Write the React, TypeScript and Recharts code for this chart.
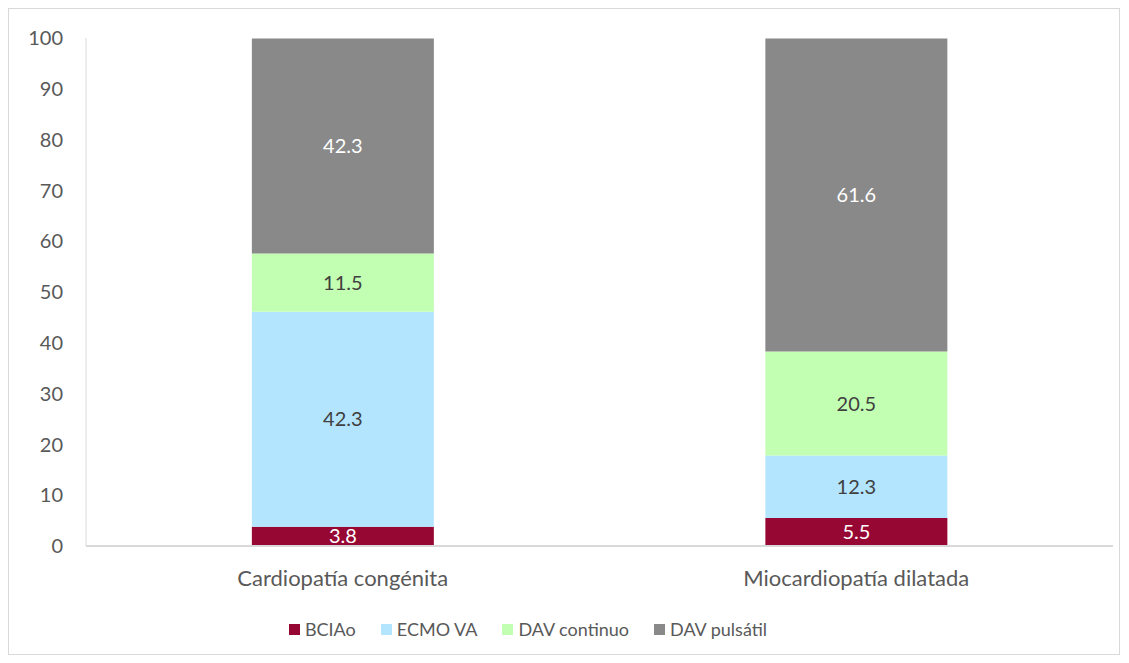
import React from "react";
import { BarChart, Bar, XAxis, YAxis, LabelList, Legend } from "recharts";

const categories = ["Cardiopatía congénita", "Miocardiopatía dilatada"];
const bciao = [3.8, 5.5];
const ecmo = [42.3, 12.3];
const davContinuo = [11.5, 20.5];
const davPulsatil = [42.3, 61.6];
const yTicks = [0, 10, 20, 30, 40, 50, 60, 70, 80, 90, 100];

const series = [
  { key: "bciao", name: "BCIAo", color: "#960833", label: "#FFFFFF" },
  { key: "ecmo", name: "ECMO VA", color: "#B3E5FF", label: "#404040" },
  { key: "davContinuo", name: "DAV continuo", color: "#C3FFB3", label: "#404040" },
  { key: "davPulsatil", name: "DAV pulsátil", color: "#898989", label: "#FFFFFF" },
];

const data = categories.map((c, i) => ({
  name: c,
  bciao: bciao[i],
  ecmo: ecmo[i],
  davContinuo: davContinuo[i],
  davPulsatil: davPulsatil[i],
}));

const FONT = "Lato, 'Open Sans', sans-serif";

const LegendContent = () => (
  <div
    style={{
      height: 30,
      display: "flex",
      justifyContent: "center",
      alignItems: "center",
      paddingRight: 58,
      fontFamily: FONT,
      fontSize: 18,
      color: "#595959",
    }}
  >
    {series.map((s) => (
      <div key={s.key} style={{ display: "flex", alignItems: "center", marginRight: 25 }}>
        <div style={{ width: 11, height: 11, background: s.color, marginRight: 5 }} />
        <span>{s.name}</span>
      </div>
    ))}
  </div>
);

export default function App() {
  return (
    <div
      style={{
        width: 1110,
        height: 645,
        border: "1px solid #D9D9D9",
        background: "#fff",
      }}
    >
      <BarChart
        width={1110}
        height={645}
        data={data}
        margin={{ top: 29, right: 6, left: 17, bottom: 10 }}
        barCategoryGap="32.3%"
      >
        <XAxis
          dataKey="name"
          height={68}
          tickLine={false}
          tickSize={0}
          tickMargin={24}
          axisLine={{ stroke: "#D9D9D9", strokeWidth: 2 }}
          tick={{ fill: "#595959", fontSize: 22, fontFamily: FONT }}
        />
        <YAxis
          width={60}
          domain={[0, 100]}
          ticks={yTicks}
          interval={0}
          tickLine={false}
          tickSize={0}
          tickMargin={23}
          axisLine={{ stroke: "#D9D9D9", strokeWidth: 1 }}
          tick={{ fill: "#595959", fontSize: 20, fontFamily: FONT }}
        />
        <Legend verticalAlign="bottom" content={<LegendContent />} />
        {series.map((s) => (
          <Bar key={s.key} dataKey={s.key} name={s.name} stackId="a" fill={s.color} isAnimationActive={false}>
            <LabelList
              dataKey={s.key}
              position="center"
              fill={s.label}
              style={{ fontSize: 20, fontFamily: FONT }}
              formatter={(v: number) => v.toFixed(1)}
            />
          </Bar>
        ))}
      </BarChart>
    </div>
  );
}
